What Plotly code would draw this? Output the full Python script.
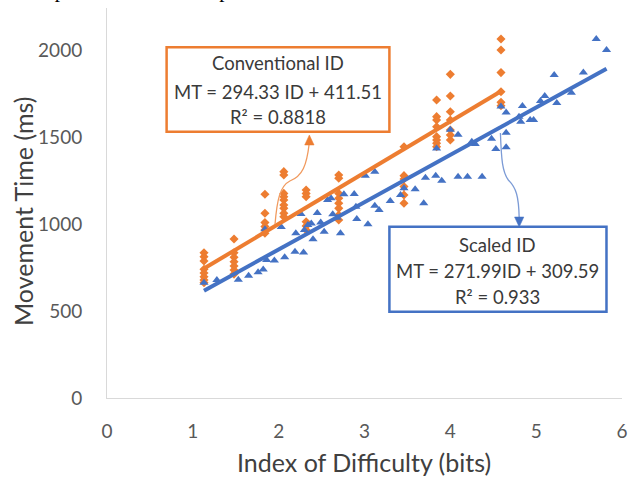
import numpy as np
import plotly.graph_objects as go

# ---------------- data ----------------
conv_id = [1.13]*8 + [1.48]*7 + [1.84]*6 + [2.06]*9 + [2.32]*6 + [2.70]*8 + [3.46]*6 + [3.84]*8 + [4.00]*7 + [4.59]*6
conv_mt = [835, 812, 787, 740, 718, 697, 678, 663,
           914, 835, 809, 783, 759, 736, 712,
           1171, 1062, 1008, 985, 966, 947,
           1301, 1282, 1176, 1157, 1138, 1109, 1090, 1062, 1042,
           1195, 1176, 1157, 1013, 989, 966,
           1282, 1263, 1176, 1148, 1119, 1090, 1052, 1023,
           1444, 1278, 1259, 1215, 1167, 1119,
           1713, 1617, 1598, 1559, 1502, 1483, 1464, 1444,
           1860, 1736, 1645, 1598, 1540, 1511, 1483,
           2063, 2000, 1870, 1760, 1699, 1680]

scaled_id = [1.13, 1.28, 1.53, 1.65, 1.76, 1.82, 1.86, 1.95, 2.07, 2.19,
             2.29, 1.84, 2.03, 2.20, 2.30, 2.40, 2.34, 2.38, 2.45, 2.49,
             2.26, 2.53, 2.57, 2.61, 2.63, 2.68, 2.72, 2.76, 2.88, 2.90,
             2.91, 3.01, 3.04, 3.12, 3.12, 3.17, 3.30, 3.42, 3.46, 3.59,
             3.71, 3.69, 3.83, 3.90, 3.84, 4.00, 4.09, 4.09, 4.20, 4.37,
             4.25, 4.29, 4.48, 4.53, 4.59, 4.65, 4.65, 4.65, 4.80, 4.82,
             4.93, 4.97, 4.84, 5.05, 5.10, 5.24, 5.21, 5.41, 5.55, 5.70,
             5.82]
scaled_mt = [663, 678, 680, 702, 722, 738, 793, 790, 809, 841,
             836, 970, 983, 947, 966, 912, 994, 1003, 1063, 1008,
             1057, 956, 1138, 1148, 1056, 1036, 947, 1171, 1172, 1099,
             1029, 1278, 998, 1301, 1105, 1080, 1132, 1167, 1205, 1199,
             1266, 1119, 1278, 1249, 1434, 1542, 1513, 1272, 1272, 1272,
             1473, 1460, 1490, 1431, 1676, 1641, 1525, 1441, 1617, 1588,
             1598, 1598, 1678, 1707, 1736, 1696, 1856, 1755, 1870, 2063,
             2000]

conv_fit = (294.33, 411.51, 0.8818)
scaled_fit = (271.99, 309.59, 0.933)

x_ticks = [0, 1, 2, 3, 4, 5, 6]
y_ticks = [0, 500, 1000, 1500, 2000]

# ---------------- styling ----------------
ORANGE = "#ED7D31"
BLUE = "#4472C4"
FONT = "Lato"
W, H = 634, 479
L, R, T, B = 107, 6, 8, 81
PW, PH = W - L - R, H - T - B


def px(x):
    return (x - L) / PW


def py(y):
    return (H - B - y) / PH


fig = go.Figure()

fig.add_trace(go.Scatter(x=conv_id, y=conv_mt, mode="markers",
                         marker=dict(symbol="diamond", size=7, color=ORANGE),
                         showlegend=False, hoverinfo="skip"))
fig.add_trace(go.Scatter(x=scaled_id, y=scaled_mt, mode="markers",
                         marker=dict(symbol="triangle-up", size=8, color=BLUE),
                         showlegend=False, hoverinfo="skip"))

for ids, fit, col in [(conv_id, conv_fit, ORANGE), (scaled_id, scaled_fit, BLUE)]:
    xs = np.array([min(ids), max(ids)])
    ys = fit[0] * xs + fit[1]
    fig.add_trace(go.Scatter(x=xs, y=ys, mode="lines",
                             line=dict(color=col, width=4),
                             showlegend=False, hoverinfo="skip"))

shapes = []
annotations = []

# label boxes
boxes = [
    (167.3, 47.3, 392.7, 131.7, ORANGE,
     ["Conventional ID", "MT = %.2f ID + %.2f" % conv_fit[:2], "R² = %.4f" % conv_fit[2]],
     [63.3, 91.7, 116.7]),
    (392.7, 226.7, 612.3, 311.7, BLUE,
     ["Scaled ID", "MT = %.2fID + %.2f" % scaled_fit[:2], "R² = %.3f" % scaled_fit[2]],
     [245.0, 270.7, 297.3]),
]
for x0, y0, x1, y1, col, lines, ys in boxes:
    shapes.append(dict(type="rect", xref="paper", yref="paper",
                       x0=px(x0), x1=px(x1), y0=py(y1), y1=py(y0),
                       line=dict(color=col, width=2.5), fillcolor="white", layer="above"))
    for txt, yy in zip(lines, ys):
        annotations.append(dict(text=txt, xref="paper", yref="paper",
                                x=px((x0 + x1) / 2), y=py(yy), xanchor="center", yanchor="middle",
                                showarrow=False, font=dict(family=FONT, size=18.5, color="#3A3A3A")))


def curve(pts):
    (a, b), rest = pts[0], pts[1:]
    s = "M %f,%f" % (px(a), py(b))
    for i in range(0, len(rest), 3):
        s += " C " + " ".join("%f,%f" % (px(p[0]), py(p[1])) for p in rest[i:i + 3])
    return s


def tri(tip, base1, base2):
    return "M %f,%f L %f,%f L %f,%f Z" % (px(tip[0]), py(tip[1]), px(base1[0]), py(base1[1]),
                                          px(base2[0]), py(base2[1]))


# orange callout curve + arrowhead
shapes.append(dict(type="path", xref="paper", yref="paper",
                   path=curve([(277, 224), (279, 200), (282, 186), (292, 181),
                               (305, 176), (309, 165), (311.5, 144)]),
                   line=dict(color="#F19A5E", width=1.3)))
shapes.append(dict(type="path", xref="paper", yref="paper",
                   path=tri((311.7, 135), (307, 145), (316.5, 145)),
                   line=dict(color=ORANGE, width=0.5), fillcolor=ORANGE))
# blue callout curve + arrowhead
shapes.append(dict(type="path", xref="paper", yref="paper",
                   path=curve([(505, 133), (506, 160), (507, 172), (513, 180),
                               (521, 188), (523.5, 196), (524, 218)]),
                   line=dict(color="#7C9BD6", width=1.3)))
shapes.append(dict(type="path", xref="paper", yref="paper",
                   path=tri((524, 227), (519.3, 217), (528.7, 217)),
                   line=dict(color=BLUE, width=0.5), fillcolor=BLUE))

# axis titles
annotations.append(dict(text="Index of Difficulty (bits)", xref="paper", yref="paper",
                        x=px(367), y=py(462), xanchor="center", yanchor="middle", showarrow=False,
                        font=dict(family=FONT, size=25, color="#404040")))
annotations.append(dict(text="Movement Time (ms)", xref="paper", yref="paper",
                        x=px(22), y=py(211), xanchor="center", yanchor="middle", showarrow=False,
                        textangle=-90, font=dict(family=FONT, size=25, color="#404040")))
# cropped caption text at the top (cut off in the reference as well)
annotations.append(dict(text="depicts the relationship between MT and the ID.", xref="paper", yref="paper",
                        x=px(447), y=py(8), xanchor="right", yanchor="bottom", yshift=4,
                        showarrow=False, font=dict(family="Liberation Serif", size=21, color="#000000")))

fig.update_layout(
    width=W, height=H,
    margin=dict(l=L, r=R, t=T, b=B, pad=0),
    paper_bgcolor="white", plot_bgcolor="white",
    shapes=shapes, annotations=annotations,
    xaxis=dict(range=[0, 6], tickvals=x_ticks, showgrid=False, zeroline=False,
               showline=True, linecolor="#D9D9D9", linewidth=1,
               ticks="outside", ticklen=16, tickcolor="rgba(0,0,0,0)",
               tickfont=dict(family=FONT, size=19, color="#595959")),
    yaxis=dict(range=[0, 390 / 0.174], tickvals=y_ticks, showgrid=False, zeroline=False,
               showline=True, linecolor="#D9D9D9", linewidth=1,
               ticks="outside", ticklen=20, tickcolor="rgba(0,0,0,0)",
               tickfont=dict(family=FONT, size=19, color="#595959")),
)

fig.write_html("out.html")
